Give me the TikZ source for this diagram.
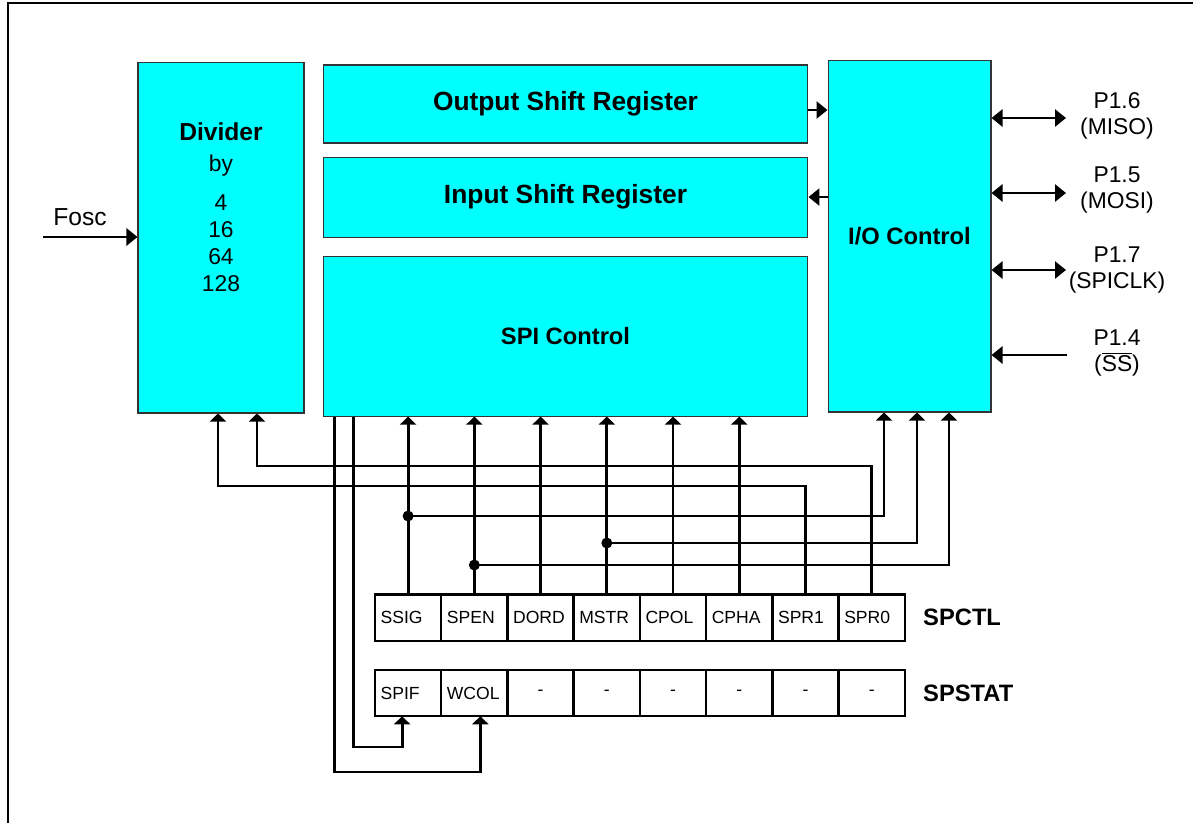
\documentclass[tikz,border=0pt]{standalone}
\usepackage{fontspec}
\setmainfont{Liberation Sans}
\usetikzlibrary{arrows.meta,positioning}
\definecolor{boxcyan}{RGB}{0,255,255}

\begin{document}
\begin{tikzpicture}[
  x=0.02cm, y=-0.02cm,
  >={Triangle[length=1.6mm,width=3.2mm]},
  bigtip/.style={>={Triangle[length=2.2mm,width=3.4mm]}},
  wire/.style={line width=1.6pt},
  block/.style={draw=black!80, line width=0.6pt, fill=boxcyan, inner sep=0pt, font=\fontsize{13.5}{16}\selectfont\bfseries},
  bit/.style={draw, line width=1.4pt, outer sep=0pt, minimum width=1.325cm, minimum height=0.93cm, inner sep=0pt, text width=1.1cm, align=left, font=\fontsize{10}{12}\selectfont},
  nobit/.style={bit, align=center},
  reglbl/.style={font=\fontsize{13.5}{16}\selectfont\bfseries, inner sep=0pt},
  pinlbl/.style={align=center, font=\fontsize{13}{15}\selectfont},
  junction/.style={circle, fill, inner sep=0pt, minimum size=2.2mm},
  node distance=0pt
]
\useasboundingbox (0,0) rectangle (1193,823);
\draw[line width=1.2pt] (8,823) -- (8,3) -- (1193,3);

\node[block, minimum width=3.32cm, minimum height=7.02cm] (div) at (221,237.5) {};
\node[align=center, font=\fontsize{13}{15.3}\selectfont] (divtxt) at (221,207) {\textbf{\fontsize{14}{15.3}\selectfont Divider}\\[2.5pt]by\\[7pt]4\\16\\64\\128};
\node[block, minimum width=9.7cm, minimum height=1.56cm, font=\fontsize{15}{18}\selectfont\bfseries] (osr) at (565.5,104) {Output Shift Register};
\node[block, minimum width=9.7cm, minimum height=1.6cm, font=\fontsize{15}{18}\selectfont\bfseries, below=0.26cm of osr] (isr) {Input Shift Register};
\node[block, minimum width=9.7cm, minimum height=3.2cm, below=0.36cm of isr] (spi) {SPI Control};
\node[block, minimum width=3.26cm, minimum height=7.04cm] (io) at (909.5,236) {I/O Control};

\node[font=\fontsize{14}{16}\selectfont] (fosc) at (80,217) {Fosc};
\coordinate (clkin) at (43,237);
\draw[wire, bigtip, ->] (clkin) -- (clkin -| div.west);

\coordinate (osrout) at ([yshift=-0.12cm]osr.east);
\draw[wire, bigtip, ->] (osrout) -- (osrout -| io.west);
\draw[wire, bigtip, ->] (isr.east -| io.west) -- (isr.east);

\coordinate (miso) at (1066,118);
\coordinate (mosi) at (1066,193);
\coordinate (sck) at (1066,270);
\coordinate (ss) at (1067,355);
\draw[wire, bigtip, <->] (io.east |- miso) -- (miso);
\draw[wire, bigtip, <->] (io.east |- mosi) -- (mosi);
\draw[wire, bigtip, <->] (io.east |- sck) -- (sck);
\draw[wire, bigtip, ->] (ss) -- (io.east |- ss);
\node[pinlbl] (misolbl) at (1117,116) {P1.6\\(MISO)};
\node[pinlbl] (mosilbl) at (1117,190) {P1.5\\(MOSI)};
\node[pinlbl] (scklbl) at (1117,270) {P1.7\\(SPICLK)};
\node[pinlbl] (sslbl) at (1117,353) {P1.4\\(\(\overline{\mbox{SS}}\))};

\node[bit] (c1) at (408.1,617.5) {SSIG};
\node[bit, right=of c1] (c2) {SPEN};
\node[bit, right=of c2] (c3) {DORD};
\node[bit, right=of c3] (c4) {MSTR};
\node[bit, right=of c4] (c5) {CPOL};
\node[bit, right=of c5] (c6) {CPHA};
\node[bit, right=of c6] (c7) {SPR1};
\node[bit, right=of c7] (c8) {SPR0};
\node[reglbl, right=0.36cm of c8] (ctl) {SPCTL};

\node[bit] (s1) at (408.1,693) {SPIF};
\node[bit, right=of s1] (s2) {WCOL};
\node[nobit, right=of s2] (s3) {-};
\node[nobit, right=of s3] (s4) {-};
\node[nobit, right=of s4] (s5) {-};
\node[nobit, right=of s5] (s6) {-};
\node[nobit, right=of s6] (s7) {-};
\node[nobit, right=of s7] (s8) {-};
\node[reglbl, right=0.36cm of s8] (stat) {SPSTAT};

\coordinate (lvA) at (0,466);
\coordinate (lvB) at (0,486);
\coordinate (lvC) at (0,516);
\coordinate (lvD) at (0,543);
\coordinate (lvE) at (0,565);
\coordinate (lvF) at (0,747);
\coordinate (lvG) at (0,772);
\coordinate (dA) at ([xshift=0.72cm]div.south);
\coordinate (dB) at ([xshift=-0.06cm]div.south);
\coordinate (iA) at ([xshift=-0.51cm]io.south);
\coordinate (iB) at ([xshift=0.15cm]io.south);
\coordinate (iC) at ([xshift=0.79cm]io.south);
\coordinate (sA) at ([xshift=0.24cm]spi.south west);
\coordinate (sB) at ([xshift=0.62cm]spi.south west);

\draw[wire, ->] (c8.north) -- (c8.north |- lvA) -| (dA);
\draw[wire, ->] (c7.north) -- (c7.north |- lvB) -| (dB);
\draw[wire, ->] (c1.north) -- (c1.north |- spi.south);
\draw[wire, ->] (c2.north) -- (c2.north |- spi.south);
\draw[wire, ->] (c3.north) -- (c3.north |- spi.south);
\draw[wire, ->] (c4.north) -- (c4.north |- spi.south);
\draw[wire, ->] (c5.north) -- (c5.north |- spi.south);
\draw[wire, ->] (c6.north) -- (c6.north |- spi.south);
\draw[wire, ->] (c1.north |- lvC) -| (iA);
\draw[wire, ->] (c4.north |- lvD) -| (iB);
\draw[wire, ->] (c2.north |- lvE) -| (iC);
\node[junction] (j1) at (c1.north |- lvC) {};
\node[junction] (j2) at (c4.north |- lvD) {};
\node[junction] (j3) at (c2.north |- lvE) {};
\draw[wire, ->] (sA) -- (sA |- lvG) -| ([xshift=0.12cm]s2.south);
\draw[wire, ->] (sB) -- (sB |- lvF) -| ([xshift=-0.12cm]s1.south);
\end{tikzpicture}
\end{document}
